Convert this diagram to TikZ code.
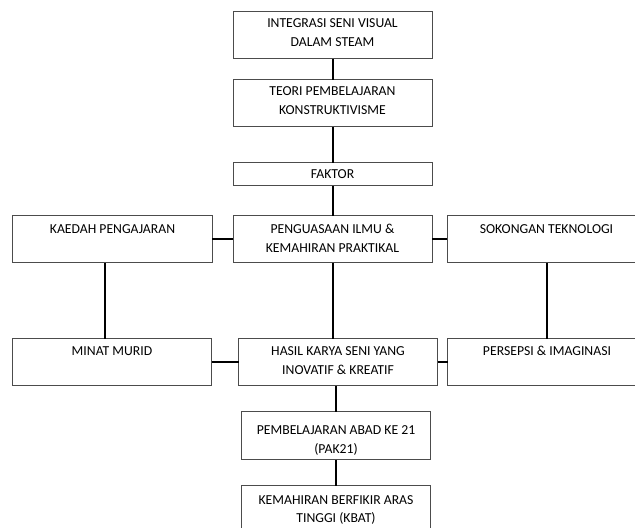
\documentclass[tikz,border=0pt]{standalone}
\usepackage{fontspec}
\setmainfont{Carlito}
\usetikzlibrary{positioning}

\newcommand{\teks}[1]{\begin{tabular}[t]{@{}c@{}}#1\end{tabular}}

\tikzset{
  kotak/.style={draw=black!70, line width=0.3mm, inner sep=0pt, outer sep=0pt,
    minimum width=59.7mm, text height=4.8mm, text depth=9.3mm,
    font=\fontsize{11.7}{16.2}\selectfont},
  pendek/.style={kotak, text depth=2.1mm},
  garis/.style={line width=0.6mm}
}

\begin{document}
\begin{tikzpicture}[x=0.3mm,y=-0.3mm]
  \useasboundingbox (0,0) rectangle (635,528);
  \clip (0,0) rectangle (635,528);
  % lajur tengah
  \node[kotak] (integrasi) at (332.5,35.5) {\teks{INTEGRASI SENI VISUAL\\DALAM STEAM}};
  \node[kotak, below=6.3mm of integrasi] (teori) {\teks{TEORI PEMBELAJARAN\\KONSTRUKTIVISME}};
  \node[pendek, below=10.8mm of teori] (faktor) {FAKTOR};
  \node[kotak, below=9mm of faktor, text height=5.4mm, text depth=8.7mm] (penguasaan)
    {\teks{PENGUASAAN ILMU \&\\KEMAHIRAN PRAKTIKAL}};
  \node[kotak, left=6.3mm of penguasaan, text height=5.4mm, text depth=8.7mm] (kaedah)
    {KAEDAH PENGAJARAN};
  \node[kotak, right=4.5mm of penguasaan, text height=5.4mm, text depth=8.7mm] (sokongan)
    {SOKONGAN TEKNOLOGI};
  \node[kotak, below=22.8mm of penguasaan, xshift=1.65mm, text height=5.1mm, text depth=9mm] (hasil)
    {\teks{HASIL KARYA SENI YANG\\INOVATIF \& KREATIF}};
  \node[kotak, left=8.1mm of hasil, text height=5.1mm, text depth=9mm] (minat) {MINAT MURID};
  \node[kotak, right=3mm of hasil, text height=5.1mm, text depth=9mm] (persepsi)
    {PERSEPSI \& IMAGINASI};
  \node[kotak, below=7.8mm of hasil, xshift=-0.6mm, minimum width=56.7mm,
    text height=6.8mm, text depth=7.6mm] (pak) {\teks{PEMBELAJARAN ABAD KE 21\\(PAK21)}};
  \node[kotak, below=7.8mm of pak, minimum width=56.7mm, text height=5.4mm, text depth=8.7mm] (kbat)
    {\teks{KEMAHIRAN BERFIKIR ARAS\\TINGGI (KBAT)}};
  % penyambung
  \draw[garis] (integrasi) -- (teori);
  \draw[garis] (teori) -- (faktor);
  \draw[garis] (faktor) -- (penguasaan);
  \draw[garis] (kaedah) -- (penguasaan);
  \draw[garis] (penguasaan) -- (sokongan);
  \draw[garis] ([xshift=-2.2mm]kaedah.south) -- ([xshift=-2.2mm]kaedah.south |- minat.north);
  \draw[garis] (penguasaan.south) -- (penguasaan.south |- hasil.north);
  \draw[garis] (sokongan.south) -- (sokongan.south |- persepsi.north);
  \draw[garis] (minat) -- (hasil);
  \draw[garis] (hasil) -- (persepsi);
  \draw[garis] (pak.north |- hasil.south) -- (pak.north);
  \draw[garis] (pak) -- (kbat);
\end{tikzpicture}
\end{document}
